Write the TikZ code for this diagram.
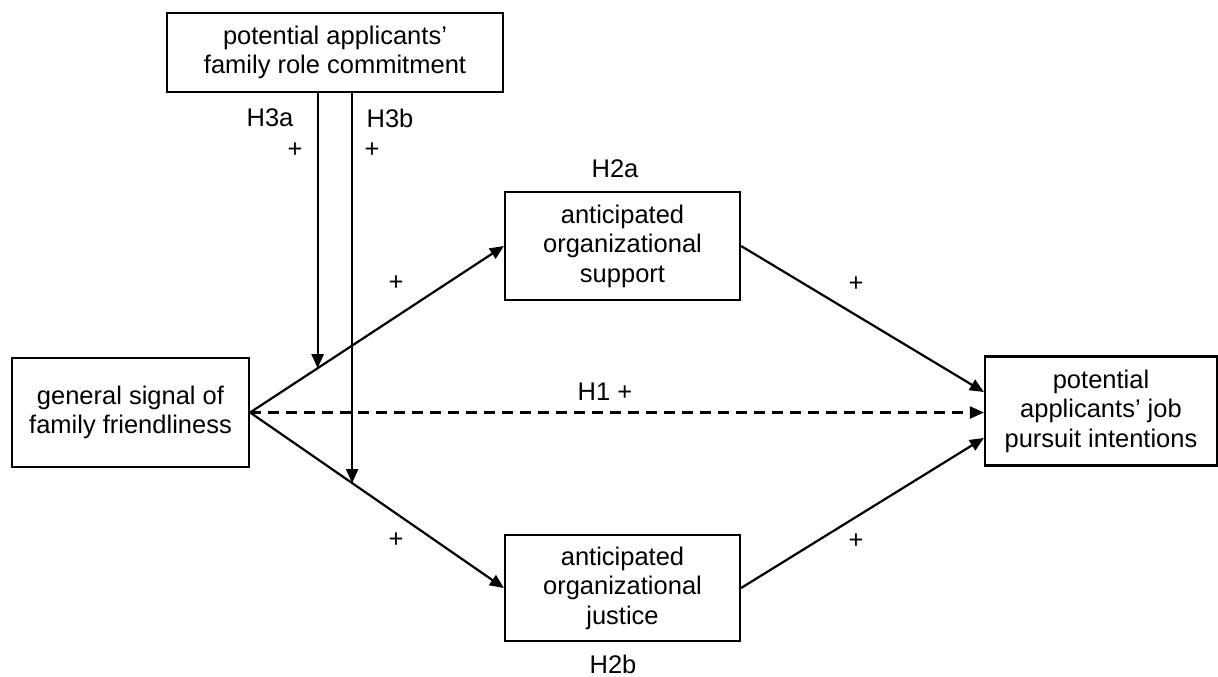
\documentclass[tikz,border=0pt]{standalone}
\usepackage{fontspec}
\setmainfont{Liberation Sans}
\usetikzlibrary{arrows.meta,calc}
\begin{document}
\begin{tikzpicture}[x=1pt,y=-1pt,
  txt/.style={font=\fontsize{25.5}{29.5}\selectfont},
  box/.style={txt,draw,line width=2.2pt,align=center,inner sep=0pt},
  lbl/.style={txt,inner sep=0pt},
  conn/.style={line width=2.2pt,-{Triangle[length=14pt,width=12pt]}},
  dashconn/.style={conn,dash pattern=on 11pt off 7pt}]
\useasboundingbox (0,0) rectangle (1218,677);

% boxes
\node[box,minimum width=336pt,minimum height=79pt] (top) at (335,52.5)
  {potential applicants’\\family role commitment};
\node[box,minimum width=237pt,minimum height=109pt] (gen) at (130.5,412.5)
  {general signal of\\family friendliness};
\node[box,minimum width=235pt,minimum height=108pt] (sup) at (622.5,246)
  {anticipated\\organizational\\support};
\node[box,minimum width=235pt,minimum height=106pt] (jus) at (622.5,588)
  {anticipated\\organizational\\justice};
\node[box,minimum width=232pt,minimum height=109pt] (pur) at (1101,411)
  {potential\\applicants’ job\\pursuit intentions};

% entry points on the outcome box
\coordinate (pinA) at ($(pur.west)+(0,-19)$);
\coordinate (pinB) at ($(pur.west)+(0,27)$);

% main paths
\draw[conn] (gen.east) -- (sup.west);
\draw[conn] (gen.east) -- (jus.west);
\draw[conn] (sup.east) -- (pinA);
\draw[conn] (jus.east) -- (pinB);
\draw[dashconn] (gen.east) -- (gen.east -| pur.west);

% moderation arrows onto the two paths
\coordinate (modA) at ($(gen.east)!0.266!(sup.west)$);
\coordinate (modB) at ($(gen.east)!0.402!(jus.west)$);
\draw[conn] (modA |- top.south) -- (modA);
\draw[conn] (modB |- top.south) -- (modB);

% labels
\node[lbl] (h3a) at (270,118) {H3a};
\node[lbl] (p3a) at (295,150) {+};
\node[lbl] (h3b) at (390,118) {H3b};
\node[lbl] (p3b) at (372,150) {+};
\node[lbl] (h2a) at (615,169) {H2a};
\node[lbl] (h2b) at (613,664) {H2b};
\node[lbl] (pa1) at (396,283) {+};
\node[lbl] (pb1) at (396,540) {+};
\node[lbl] (pa2) at (856,284) {+};
\node[lbl] (pb2) at (856,541) {+};
\node[lbl] (h1) at (605,392) {H1 +};
\end{tikzpicture}
\end{document}
